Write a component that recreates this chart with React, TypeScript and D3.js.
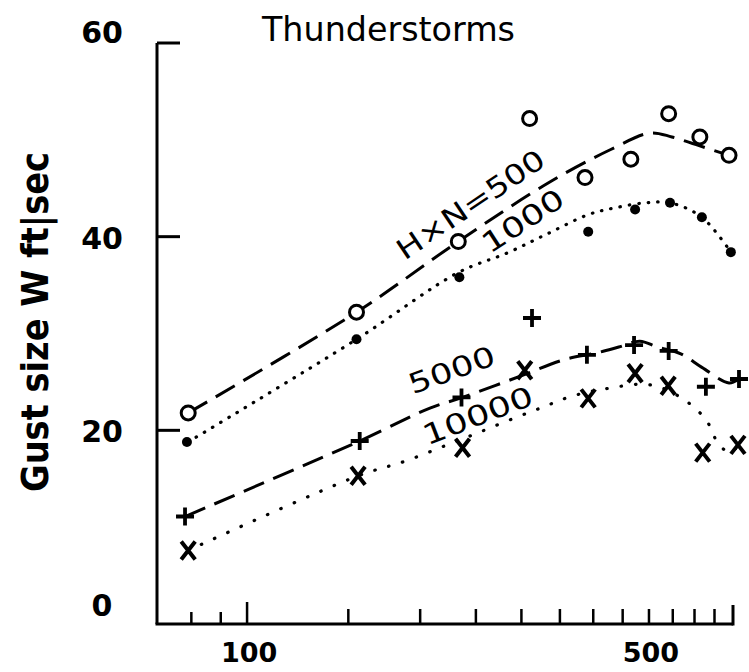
import React from "react";
import * as d3 from "d3";

const W = 749;
const H = 672;

// axis ticks
const yTicks = [0, 20, 40, 60];
const xLabelTicks = [100, 500];
const xMinorTicks = [80, 90, 150, 200, 250, 300, 350, 400, 450, 500, 550, 600, 650];

// H x N = 500 (open circles)
const x500 = [79, 155, 233, 310, 387, 465, 541, 613, 689];
const y500 = [21.8, 32.2, 39.5, 52.2, 46.1, 48.0, 52.7, 50.3, 48.4];
// H x N = 1000 (filled dots)
const x1000 = [78.6, 155, 234, 392, 473, 544, 618, 694];
const y1000 = [18.8, 29.4, 35.8, 40.5, 42.8, 43.5, 42.0, 38.4];
// H x N = 5000 (plus)
const x5000 = [78, 157, 236, 313, 390, 471, 541, 628, 717];
const y5000 = [11.1, 18.9, 23.4, 31.6, 27.8, 28.8, 28.2, 24.5, 25.3];
// H x N = 10000 (cross)
const x10000 = [79, 156, 237, 304, 392, 473, 540, 620, 714];
const y10000 = [7.6, 15.3, 18.2, 26.2, 23.3, 25.9, 24.6, 17.7, 18.5];

// smoothed trend curves through each group
const fit500X = [79, 155, 233, 335, 429, 502, 548, 604, 689];
const fit500Y = [21.8, 32.2, 39.5, 45.6, 49.0, 50.7, 50.3, 49.5, 48.4];
const fit1000X = [79, 155, 233, 283, 333, 393, 438, 494, 544, 618, 694];
const fit1000Y = [18.8, 29.4, 36.3, 38.3, 40.3, 42.3, 43.0, 43.5, 43.5, 42.0, 38.4];
const fit5000X = [78, 157, 208, 237, 302, 356, 406, 443, 482, 517, 568, 618, 689, 717];
const fit5000Y = [11.1, 18.9, 22.3, 23.4, 25.7, 27.3, 28.0, 28.6, 29.2, 28.6, 27.9, 26.5, 24.9, 25.3];
const fit10000X = [79, 156, 188, 223, 251, 287, 327, 366, 421, 502, 571, 628, 662, 694, 714];
const fit10000Y = [7.6, 15.3, 16.8, 18.5, 19.7, 21.1, 22.4, 23.5, 24.3, 24.7, 23.3, 21.1, 18.5, 17.7, 18.5];

// curve labels: text, anchor in data units, angle
const curveLabels = [
  { text: "H\u00d7N=500", x: 245, y: 43.3, angle: -34, len: 172 },
  { text: "1000", x: 302, y: 41.6, angle: -33, len: 92 },
  { text: "5000", x: 227, y: 26.2, angle: -20, len: 90 },
  { text: "10000", x: 252, y: 21.5, angle: -21, len: 116 },
];

const xScale = d3.scaleLog().domain([70, 700]).range([158, 733]);
const yScale = d3.scaleLinear().domain([0, 60]).range([624, 43]);

const pts = (xs: number[], ys: number[]) => xs.map((x, i) => [x, ys[i]] as [number, number]);

const line = d3
  .line<[number, number]>()
  .x((d) => xScale(d[0]))
  .y((d) => yScale(d[1]))
  .curve(d3.curveCatmullRom.alpha(0.5));

const INK = "#000";
const FONT = "'DejaVu Sans', sans-serif";

// vertical nudge of each y tick label
const yLabelShift: Record<number, number> = { 0: -8, 20: 12, 40: 12, 60: 0 };

export default function App() {
  const axisX = xScale(70) - 1;
  const axisY = yScale(0);
  return (
    <svg
      width={W}
      height={H}
      viewBox={`0 0 ${W} ${H}`}
      style={{ display: "block", position: "absolute", left: 0, top: 0, background: "#fff" }}
    >
      <rect width={W} height={H} fill="#fff" />

      {/* title */}
      <text x={262} y={41} fontFamily={FONT} fontSize={33} textLength={253} lengthAdjust="spacingAndGlyphs" fill={INK}>
        Thunderstorms
      </text>

      {/* y axis label */}
      <text
        transform={`translate(48, 322) rotate(-90)`}
        textAnchor="middle"
        fontFamily={FONT}
        fontWeight="bold"
        fontSize={38}
        textLength={340}
        lengthAdjust="spacingAndGlyphs"
        fill={INK}
      >
        Gust size W ft|sec
      </text>

      {/* axes */}
      <line x1={axisX} y1={yScale(60)} x2={axisX} y2={axisY} stroke={INK} strokeWidth={3} />
      <line x1={axisX - 1.5} y1={axisY} x2={xScale(700)} y2={axisY} stroke={INK} strokeWidth={3} />
      {yTicks.filter((t) => t > 0).map((t) => (
        <line key={`yt${t}`} x1={axisX} y1={yScale(t)} x2={axisX + 23} y2={yScale(t)} stroke={INK} strokeWidth={3} />
      ))}
      {yTicks.map((t) => (
        <text
          key={`yl${t}`}
          x={t === 0 ? 102 : 102}
          y={yScale(t) + yLabelShift[t]}
          textAnchor="middle"
          fontFamily={FONT}
          fontWeight="bold"
          fontSize={30}
          fill={INK}
        >
          {t}
        </text>
      ))}
      {xMinorTicks.map((t) => (
        <line
          key={`xt${t}`}
          x1={xScale(t)}
          y1={axisY}
          x2={xScale(t)}
          y2={axisY - (t < 100 ? 12 : 15)}
          stroke={INK}
          strokeWidth={2.5}
        />
      ))}
      <line x1={xScale(100)} y1={axisY} x2={xScale(100)} y2={axisY - 22} stroke={INK} strokeWidth={2.5} />
      <line x1={xScale(700)} y1={axisY + 1.5} x2={xScale(700)} y2={axisY - 19} stroke={INK} strokeWidth={3} />
      {xLabelTicks.map((t) => (
        <text
          key={`xl${t}`}
          x={xScale(t) + 2}
          y={axisY + 38}
          textAnchor="middle"
          fontFamily={FONT}
          fontWeight="bold"
          fontSize={27}
          fill={INK}
        >
          {t}
        </text>
      ))}

      {/* trend curves */}
      <path d={line(pts(fit500X, fit500Y)) ?? ""} fill="none" stroke={INK} strokeWidth={3} strokeDasharray="22 10" />
      <path
        d={line(pts(fit1000X, fit1000Y)) ?? ""}
        fill="none"
        stroke={INK}
        strokeWidth={3.2}
        strokeLinecap="round"
        strokeDasharray="0.5 9"
      />
      <path d={line(pts(fit5000X, fit5000Y)) ?? ""} fill="none" stroke={INK} strokeWidth={3} strokeDasharray="22 10" />
      <path
        d={line(pts(fit10000X, fit10000Y)) ?? ""}
        fill="none"
        stroke={INK}
        strokeWidth={3.2}
        strokeLinecap="round"
        strokeDasharray="0.5 14"
      />

      {/* curve labels */}
      {curveLabels.map((l) => (
        <text
          key={l.text}
          transform={`translate(${xScale(l.x)}, ${yScale(l.y)}) rotate(${l.angle})`}
          textAnchor="middle"
          dominantBaseline="central"
          fontFamily={FONT}
          fontSize={28}
          textLength={l.len}
          lengthAdjust="spacingAndGlyphs"
          fill={INK}
        >
          {l.text}
        </text>
      ))}

      {/* markers */}
      {pts(x500, y500).map((d, i) => (
        <circle key={`c${i}`} cx={xScale(d[0])} cy={yScale(d[1])} r={7} fill="#fff" stroke={INK} strokeWidth={3} />
      ))}
      {pts(x1000, y1000).map((d, i) => (
        <circle key={`d${i}`} cx={xScale(d[0])} cy={yScale(d[1])} r={5} fill={INK} />
      ))}
      {pts(x5000, y5000).map((d, i) => {
        const cx = xScale(d[0]);
        const cy = yScale(d[1]);
        return (
          <path key={`p${i}`} d={`M${cx - 9},${cy}H${cx + 9}M${cx},${cy - 9}V${cy + 9}`} stroke={INK} strokeWidth={3.8} />
        );
      })}
      {pts(x10000, y10000).map((d, i) => {
        const cx = xScale(d[0]);
        const cy = yScale(d[1]);
        return (
          <path
            key={`x${i}`}
            d={`M${cx - 7},${cy - 9}L${cx + 7},${cy + 9}M${cx + 7},${cy - 9}L${cx - 7},${cy + 9}`}
            stroke={INK}
            strokeWidth={4}
          />
        );
      })}
    </svg>
  );
}
